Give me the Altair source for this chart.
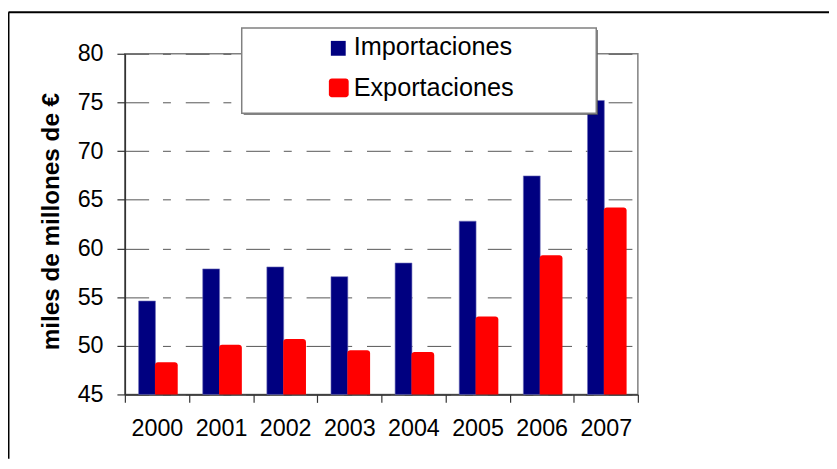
import altair as alt
import pandas as pd

# ---- data ----
years = ["2000", "2001", "2002", "2003", "2004", "2005", "2006", "2007"]
importaciones = [54.6, 57.9, 58.1, 57.1, 58.5, 62.8, 67.45, 75.2]
exportaciones = [48.3, 50.1, 50.7, 49.55, 49.35, 53.0, 59.3, 64.2]
series = ["Importaciones", "Exportaciones"]
colors = ["#000080", "#FF0000"]
y_ticks = [45, 50, 55, 60, 65, 70, 75, 80]
y_title = "miles de millones de €"
y_min, y_max = 45, 80

df = pd.DataFrame({"year": years, "imp": importaciones, "exp": exportaciones})

FONT = "Liberation Sans"
W, H = 518, 344
SVG_W, SVG_H = 829, 453
PAD_L, PAD_T = 118, 44

x_enc = alt.X(
    "year:N",
    sort=years,
    scale=alt.Scale(paddingInner=0, paddingOuter=0),
    axis=alt.Axis(
        title=None, tickBand="extent", labelAngle=0, labelFont=FONT,
        labelFontSize=23.5, labelColor="black", labelPadding=14, tickSize=8,
        tickColor="#333", domainColor="#333", domainWidth=1.5, tickWidth=1.2,
        grid=False,
    ),
)
y_scale = alt.Scale(domain=[y_min, y_max], zero=False, nice=False)
y_axis = alt.Axis(
    values=y_ticks, title=y_title, titleFont=FONT, titleFontSize=24.5,
    titleFontWeight="bold", titleColor="black", titleAngle=270,
    titleX=-67, titleY=H / 2 - 3, titleAlign="center", titleBaseline="alphabetic",
    labelFont=FONT, labelFontSize=23.5, labelColor="black", labelPadding=14,
    tickSize=8, tickColor="#333", domainColor="#333", domainWidth=1.5, tickWidth=1.2,
    grid=True, gridDash=[24, 14, 8, 15], gridColor="#555", gridWidth=1,
)

imp_bars = alt.Chart(df).mark_bar(
    width=17, xOffset=-10, color=colors[0], stroke="#6f6fb8", strokeWidth=0.6
).encode(
    x=x_enc,
    y=alt.Y("imp:Q", scale=y_scale, axis=y_axis),
    y2=alt.datum(y_min),
)
exp_bars = alt.Chart(df).mark_bar(
    width=23, xOffset=9.5, color=colors[1], cornerRadiusTopLeft=3, cornerRadiusTopRight=3
).encode(
    x=x_enc,
    y=alt.Y("exp:Q", scale=y_scale, axis=y_axis),
    y2=alt.datum(y_min),
)

one = pd.DataFrame({"k": [0]})

# legend (drawn by hand to match the boxed legend of the original)
leg_shadow = alt.Chart(one).mark_rect(fill="#5a5a5a").encode(
    x=alt.value(120), x2=alt.value(477.5), y=alt.value(-24), y2=alt.value(61.5)
)
leg_box = alt.Chart(one).mark_rect(fill="white", stroke="#808080", strokeWidth=1.5).encode(
    x=alt.value(118), x2=alt.value(476), y=alt.value(-26), y2=alt.value(60)
)
leg_sym1 = alt.Chart(one).mark_rect(color=colors[0]).encode(
    x=alt.value(208), x2=alt.value(223), y=alt.value(-13), y2=alt.value(2)
)
leg_sym2 = alt.Chart(one).mark_rect(color=colors[1], cornerRadius=3).encode(
    x=alt.value(206), x2=alt.value(226), y=alt.value(25), y2=alt.value(44)
)
leg_txt1 = alt.Chart(pd.DataFrame({"s": [series[0]]})).mark_text(
    align="left", baseline="alphabetic", font=FONT, fontSize=25.5, color="black"
).encode(x=alt.value(231), y=alt.value(1), text="s:N")
leg_txt2 = alt.Chart(pd.DataFrame({"s": [series[1]]})).mark_text(
    align="left", baseline="alphabetic", font=FONT, fontSize=25.5, color="black"
).encode(x=alt.value(231), y=alt.value(43), text="s:N")

# outer frame of the original picture
frame_top = alt.Chart(one).mark_rule(color="black", strokeWidth=2).encode(
    x=alt.value(-PAD_L + 0.5), x2=alt.value(SVG_W - PAD_L), y=alt.value(-PAD_T + 2)
)
frame_left = alt.Chart(one).mark_rule(color="black", strokeWidth=2).encode(
    x=alt.value(-PAD_L + 0.5), y=alt.value(-PAD_T + 2), y2=alt.value(SVG_H - PAD_T)
)

chart = alt.layer(
    imp_bars, exp_bars, leg_shadow, leg_box, leg_sym1, leg_sym2, leg_txt1, leg_txt2,
    frame_top, frame_left
).properties(
    width=W,
    height=H,
    padding={"left": PAD_L, "top": PAD_T, "right": SVG_W - PAD_L - W, "bottom": SVG_H - PAD_T - H},
    autosize=alt.AutoSizeParams(type="none"),
    background="white",
).configure_view(
    stroke="#808080", strokeWidth=1.5
)

chart.save("out.html", embed_options={"renderer": "svg", "actions": False})
